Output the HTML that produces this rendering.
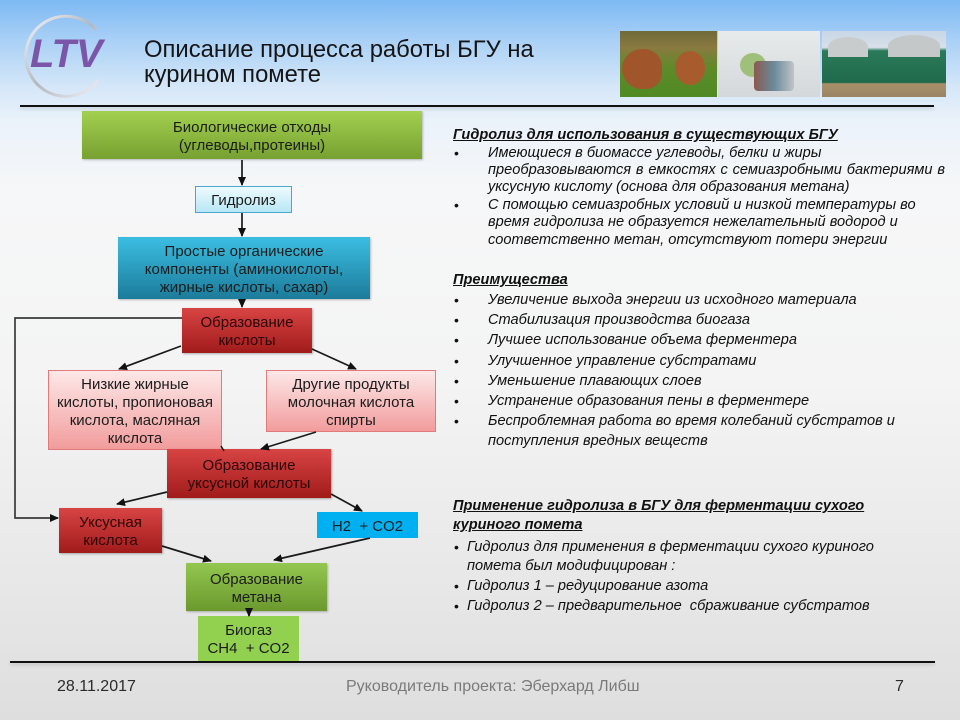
<!DOCTYPE html>
<html><head><meta charset="utf-8">
<style>
*{margin:0;padding:0;box-sizing:border-box}
html,body{width:960px;height:720px;overflow:hidden}
body{position:relative;font-family:"Liberation Sans",Arial,sans-serif;
background:linear-gradient(to bottom,#7db9f3 0px,#a9d0f6 40px,#d3e6f8 85px,#eaf2fa 120px,#f6f7f8 190px,#f4f4f4 380px,#e9e9e9 560px,#dedede 720px);}
.abs{position:absolute}
.box{position:absolute;display:flex;align-items:center;justify-content:center;text-align:center;font-size:15px;line-height:18px;color:#1c1c1c;white-space:nowrap;padding-top:3px}
.green{background:linear-gradient(#a2d04f,#77a131);box-shadow:1px 1px 2px rgba(0,0,0,.25)}
.hyd{background:linear-gradient(#eefbfe,#b8e7f5);border:1px solid #4aa8cf}
.teal{background:linear-gradient(#3bbee2,#1c7b9a);box-shadow:1px 1px 2px rgba(0,0,0,.25)}
.red{background:linear-gradient(#d84444,#a11b1b);box-shadow:1px 1px 2px rgba(0,0,0,.3);color:#2a0606}
.pink{background:linear-gradient(#fde8e8,#f29c9c);border:1px solid #e07b7b}
.cyan{background:#00b0f0}
.lg{background:#92d050}
.mg{background:linear-gradient(#93c74f,#6b992e);box-shadow:1px 1px 2px rgba(0,0,0,.25)}
.t{position:absolute;font-size:14.6px;line-height:18px;font-style:italic;color:#111;white-space:nowrap}
.h{position:absolute;font-size:14.6px;line-height:18px;font-style:italic;font-weight:bold;text-decoration:underline;color:#111;white-space:nowrap}
.b{position:absolute;font-size:14px;line-height:18px;color:#111}
</style></head><body>

<!-- logo -->
<svg class="abs" style="left:0;top:0" width="130" height="110">
<defs><linearGradient id="rg" x1="0" y1="0" x2="1" y2="1"><stop offset="0" stop-color="#f4f6fa"/><stop offset=".5" stop-color="#b4b7be"/><stop offset="1" stop-color="#eef0f4"/></linearGradient></defs>
<path d="M96,30 A40,40 0 1 0 98,80" fill="none" stroke="url(#rg)" stroke-width="3"/>
<text x="30" y="67" font-family="Liberation Sans,Arial,sans-serif" font-size="40" font-weight="bold" font-style="italic" fill="#7a55a8">LTV</text>
</svg>

<!-- title -->
<div class="abs" style="left:144px;top:37px;font-size:23.8px;line-height:25px;color:#151515">Описание процесса работы БГУ на<br>курином помете</div>

<!-- photos -->
<div class="abs" style="left:620px;top:31px;width:97px;height:66px;background:linear-gradient(#6f6a3a 0%,#8a7a40 25%,#5f8a2a 55%,#4f8a25 100%);overflow:hidden">
 <div class="abs" style="left:2px;top:18px;width:40px;height:40px;border-radius:50% 45% 40% 50%;background:#a0552a"></div>
 <div class="abs" style="left:55px;top:20px;width:30px;height:34px;border-radius:50%;background:#a85c2e"></div>
</div>
<div class="abs" style="left:718px;top:31px;width:102px;height:66px;background:linear-gradient(#e8ebec,#d4d8da)">
 <div class="abs" style="left:22px;top:22px;width:26px;height:24px;border-radius:50%;background:#9fc07a"></div>
 <div class="abs" style="left:36px;top:30px;width:40px;height:30px;background:linear-gradient(90deg,#8a5a50,#6a8a9a,#c0c4c8);border-radius:4px"></div>
</div>
<div class="abs" style="left:822px;top:31px;width:124px;height:66px;background:linear-gradient(#c7d6e6 0%,#d8e0ea 25%,#2a7a5a 30%,#1f6a4a 78%,#a8906a 80%,#9a8464 100%)">
 <div class="abs" style="left:6px;top:6px;width:40px;height:20px;border-radius:50% 50% 0 0;background:#c8cccc"></div>
 <div class="abs" style="left:66px;top:4px;width:52px;height:22px;border-radius:50% 50% 0 0;background:#c4c8c8"></div>
</div>

<!-- header & footer lines -->
<div class="abs" style="left:20px;top:105px;width:914px;height:2px;background:#111;box-shadow:0 2px 3px rgba(0,0,0,.15)"></div>
<div class="abs" style="left:10px;top:661px;width:925px;height:2px;background:#111;box-shadow:0 2px 3px rgba(0,0,0,.15)"></div>

<!-- flowchart connectors -->
<svg class="abs" style="left:0;top:0;z-index:2" width="960" height="720">
<defs><marker id="a" markerWidth="9" markerHeight="8" refX="8" refY="4" orient="auto" markerUnits="userSpaceOnUse"><path d="M0,0 L9,4 L0,8 z" fill="#111"/></marker></defs>
<g stroke="#1a1a1a" stroke-width="1.7" fill="none" marker-end="url(#a)">
<line x1="242" y1="160" x2="242" y2="185"/>
<line x1="242" y1="213" x2="242" y2="236"/>
<line x1="242" y1="299" x2="242" y2="307"/>
<polyline points="182,318 15,318 15,518 58,518" stroke="#3a3a3a"/>
<line x1="181" y1="346" x2="119" y2="369"/>
<line x1="312" y1="349" x2="356" y2="369"/>
<line x1="316" y1="432" x2="261" y2="449"/>
<line x1="167" y1="492" x2="117" y2="504"/>
<line x1="331" y1="494" x2="362" y2="511"/>
<line x1="162" y1="546" x2="211" y2="561"/>
<line x1="370" y1="538" x2="274" y2="560"/>
<line x1="249" y1="611" x2="249" y2="616"/>
</g>
<line x1="221" y1="446" x2="224" y2="451" stroke="#1a1a1a" stroke-width="1.5"/>
</svg>

<!-- flowchart boxes -->
<div class="box green" style="left:82px;top:111px;width:340px;height:48px">Биологические отходы<br>(углеводы,протеины)</div>
<div class="box hyd" style="left:195px;top:186px;width:97px;height:27px">Гидролиз</div>
<div class="box teal" style="left:118px;top:237px;width:252px;height:62px">Простые органические<br>компоненты (аминокислоты,<br>жирные кислоты, сахар)</div>
<div class="box red" style="left:182px;top:308px;width:130px;height:45px">Образование<br>кислоты</div>
<div class="box pink" style="left:48px;top:370px;width:174px;height:80px">Низкие жирные<br>кислоты, пропионовая<br>кислота, масляная<br>кислота</div>
<div class="box pink" style="left:266px;top:370px;width:170px;height:62px">Другие продукты<br>молочная кислота<br>спирты</div>
<div class="box red" style="left:167px;top:449px;width:164px;height:49px">Образование<br>уксусной кислоты</div>
<div class="box red" style="left:59px;top:508px;width:103px;height:45px">Уксусная<br>кислота</div>
<div class="box cyan" style="left:317px;top:512px;width:101px;height:26px">H2&nbsp; + CO2</div>
<div class="box mg" style="left:186px;top:563px;width:141px;height:48px">Образование<br>метана</div>
<div class="box lg" style="left:198px;top:616px;width:101px;height:45px">Биогаз<br>CH4&nbsp; + CO2</div>

<!-- right text section 1 -->
<div class="h" style="left:453px;top:126px">Гидролиз для использования в существующих БГУ</div>
<div class="b" style="left:454px;top:144px">•</div>
<div class="t" style="left:488px;top:144px">Имеющиеся в биомассе углеводы, белки и жиры</div>
<div class="t" style="left:488px;top:161px;width:457px;text-align:justify;text-align-last:justify">преобразовываются в емкостях с семиазробными бактериями в</div>
<div class="t" style="left:488px;top:178px">уксусную кислоту (основа для образования метана)</div>
<div class="b" style="left:454px;top:196px">•</div>
<div class="t" style="left:488px;top:196px">С помощью семиазробных условий и низкой температуры во</div>
<div class="t" style="left:488px;top:213px">время гидролиза не образуется нежелательный водород и</div>
<div class="t" style="left:488px;top:231px">соответственно метан, отсутствуют потери энергии</div>

<!-- section 2 -->
<div class="h" style="left:453px;top:271px">Преимущества</div>
<div class="b" style="left:454px;top:291px">•</div><div class="t" style="left:488px;top:291px">Увеличение выхода энергии из исходного материала</div>
<div class="b" style="left:454px;top:311px">•</div><div class="t" style="left:488px;top:311px">Стабилизация производства биогаза</div>
<div class="b" style="left:454px;top:331px">•</div><div class="t" style="left:488px;top:331px">Лучшее использование объема ферментера</div>
<div class="b" style="left:454px;top:352px">•</div><div class="t" style="left:488px;top:352px">Улучшенное управление субстратами</div>
<div class="b" style="left:454px;top:372px">•</div><div class="t" style="left:488px;top:372px">Уменьшение плавающих слоев</div>
<div class="b" style="left:454px;top:392px">•</div><div class="t" style="left:488px;top:392px">Устранение образования пены в ферментере</div>
<div class="b" style="left:454px;top:412px">•</div><div class="t" style="left:488px;top:412px">Беспроблемная работа во время колебаний субстратов и</div>
<div class="t" style="left:488px;top:432px">поступления вредных веществ</div>

<!-- section 3 -->
<div class="h" style="left:453px;top:497px">Применение гидролиза в БГУ для ферментации сухого</div>
<div class="h" style="left:453px;top:516px">куриного помета</div>
<div class="b" style="left:454px;top:538px">•</div><div class="t" style="left:467px;top:538px">Гидролиз для применения в ферментации сухого куриного</div>
<div class="t" style="left:467px;top:557px">помета был модифицирован :</div>
<div class="b" style="left:454px;top:577px">•</div><div class="t" style="left:467px;top:577px">Гидролиз 1 – редуцирование азота</div>
<div class="b" style="left:454px;top:597px">•</div><div class="t" style="left:467px;top:597px">Гидролиз 2 – предварительное&nbsp; сбраживание субстратов</div>

<!-- footer -->
<div class="abs" style="left:57px;top:678px;font-size:16px;line-height:18px;color:#2a2a2a">28.11.2017</div>
<div class="abs" style="left:346px;top:678px;font-size:16px;line-height:18px;color:#7a7a7a">Руководитель проекта: Эберхард Либш</div>
<div class="abs" style="left:895px;top:678px;font-size:16px;line-height:18px;color:#2a2a2a">7</div>

</body></html>
